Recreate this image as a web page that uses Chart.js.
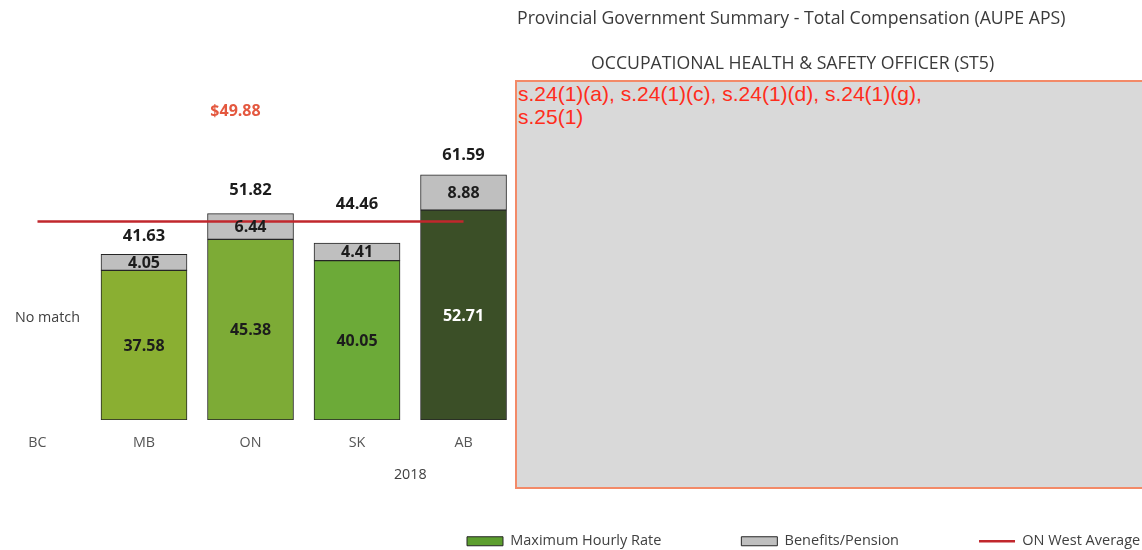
<!DOCTYPE html>
<html>
<head>
<meta charset="utf-8">
<script src="https://cdn.jsdelivr.net/npm/chart.js@4.4.1/dist/chart.umd.min.js"></script>
<style>
    html, body { margin: 0; padding: 0; background: #fff; }
    #wrap { position: relative; width: 1142px; height: 550px; overflow: hidden; }
    #chart { position: absolute; left: 0; top: 0; }
    .title { position: absolute; font-family: "Open Sans", sans-serif; color: #3a3a3a; white-space: nowrap; }
    #t1 { left: 517px; top: 5px; font-size: 17.7px; }
    #t2 { left: 591px; top: 50px; font-size: 17.7px; }
    #redact {
        position: absolute; left: 515px; top: 80px; width: 640px; height: 409px;
        background: #d9d9d9; border: 2px solid #f38a68;
        font-family: "Liberation Sans", Arial, sans-serif; font-size: 21px; line-height: 23px;
        color: #ff2d1c; padding-left: 1px; box-sizing: border-box;
    }
</style>
</head>
<body>
<div id="wrap">
    <canvas id="chart" width="1142" height="550"></canvas>
    <div class="title" id="t1">Provincial Government Summary - Total Compensation (AUPE APS)</div>
    <div class="title" id="t2">OCCUPATIONAL HEALTH &amp; SAFETY OFFICER (ST5)</div>
    <div id="redact">s.24(1)(a), s.24(1)(c), s.24(1)(d), s.24(1)(g),<br>s.25(1)</div>
</div>
<script>
// Datos del gráfico
const provinces = ['BC', 'MB', 'ON', 'SK', 'AB'];
const maxHourlyRate = [null, 37.58, 45.38, 40.05, 52.71];
const benefitsPension = [null, 4.05, 6.44, 4.41, 8.88];
const westAverage = [49.88, 49.88, 49.88, 49.88, 49.88];
const yearLabel = '2018';
const noMatchText = 'No match';

const rateColors = ['#8aaf32', '#8aaf32', '#7dab36', '#6caa38', '#3b4f27'];
const legendGreen = '#5c9e2e';
const grey = '#bfbfbf';
const red = '#c1272d';
const FONT = '"Open Sans", sans-serif';

// etiquetas de valores y textos sueltos
const labelPlugin = {
    id: 'valueLabels',
    afterDatasetsDraw(chart) {
        const ctx = chart.ctx;
        const xs = chart.scales.x, ys = chart.scales.y;
        const lift = [0, 18, 23, 39, 20];
        ctx.save();
        ctx.textAlign = 'center';
        ctx.textBaseline = 'middle';

        [0, 1].forEach(di => {
            const meta = chart.getDatasetMeta(di);
            meta.data.forEach((bar, i) => {
                const v = chart.data.datasets[di].data[i].y;
                if (v == null) return;
                ctx.font = 'bold 16px ' + FONT;
                ctx.fillStyle = (di === 0 && i === 4) ? '#ffffff' : '#1c1c1c';
                ctx.fillText(v.toFixed(2), bar.x, (bar.y + bar.base) / 2 + 1);
            });
        });

        // totales encima de cada barra
        const top = chart.getDatasetMeta(1);
        top.data.forEach((bar, i) => {
            if (maxHourlyRate[i] == null) return;
            const total = maxHourlyRate[i] + benefitsPension[i];
            ctx.font = 'bold 16.5px ' + FONT;
            ctx.fillStyle = '#1c1c1c';
            ctx.fillText(total.toFixed(2), bar.x, bar.y - lift[i]);
        });

        // etiqueta del promedio
        ctx.font = 'bold 16px ' + FONT;
        ctx.fillStyle = '#e4583f';
        ctx.fillText('$' + westAverage[2].toFixed(2), xs.getPixelForValue(2) - 15, ys.getPixelForValue(westAverage[2]) - 110);

        ctx.font = '14.3px ' + FONT;
        ctx.fillStyle = '#404040';
        ctx.fillText(noMatchText, xs.getPixelForValue(0) + 10, ys.getPixelForValue(0) - 102);
        ctx.fillText(yearLabel, xs.getPixelForValue(3.5), chart.chartArea.bottom + 55);
        ctx.restore();
    }
};

// coloca la leyenda abajo a la derecha como en el original
const legendPlacer = {
    id: 'legendPlacer',
    beforeInit(chart) {
        const fit = chart.legend.fit;
        chart.legend.fit = function () {
            fit.call(this);
            this.height = 30;
        };
    },
    afterLayout(chart) {
        const lg = chart.legend;
        const p = lg.options.labels.padding;
        lg.left = 467 - p;
        lg.right = 1600;
        lg.top = 540 - p - 6;
    }
};

const chart = new Chart(document.getElementById('chart').getContext('2d'), {
    type: 'bar',
    data: {
        datasets: [
            {
                label: 'Maximum Hourly Rate',
                data: maxHourlyRate.map((v, i) => ({ x: i, y: v })),
                backgroundColor: rateColors,
                borderColor: '#262626',
                borderWidth: 1,
                borderSkipped: false,
                barThickness: 86,
                stack: 'comp'
            },
            {
                label: 'Benefits/Pension',
                data: benefitsPension.map((v, i) => ({ x: i, y: v })),
                backgroundColor: grey,
                borderColor: '#262626',
                borderWidth: 1,
                borderSkipped: false,
                barThickness: 86,
                stack: 'comp'
            },
            {
                type: 'line',
                label: 'ON West Average',
                data: westAverage.map((v, i) => ({ x: i, y: v })),
                borderColor: red,
                backgroundColor: red,
                borderWidth: 2.5,
                pointRadius: 0,
                stack: 'avg',
                order: -1
            }
        ]
    },
    options: {
        responsive: false,
        animation: false,
        layout: { padding: 0 },
        scales: {
            x: {
                type: 'linear',
                offset: false,
                min: -0.352,
                max: 10.37,
                stacked: true,
                grid: { display: false, drawTicks: false, offset: false },
                border: { display: false },
                ticks: {
                    stepSize: 1,
                    autoSkip: false,
                    includeBounds: false,
                    maxRotation: 0,
                    padding: 14,
                    color: '#555555',
                    font: { family: FONT, size: 14.3 },
                    callback: (v) => provinces[v] ?? ''
                },
                afterFit(scale) {
                    scale.height = 130 - scale.chart.legend.height;
                }
            },
            y: {
                display: false,
                stacked: true,
                min: 0,
                max: 105.5
            }
        },
        plugins: {
            tooltip: { enabled: false },
            legend: {
                position: 'bottom',
                align: 'start',
                labels: {
                    usePointStyle: true,
                    pointStyleWidth: 36,
                    boxHeight: 9,
                    padding: 80,
                    color: '#404040',
                    font: { family: FONT, size: 14.5 },
                    sort: (a, b) => a.datasetIndex - b.datasetIndex,
                    generateLabels(c) {
                        const items = Chart.defaults.plugins.legend.labels.generateLabels(c);
                        items.forEach(it => {
                            if (it.datasetIndex === 2) {
                                it.pointStyle = 'line';
                                it.strokeStyle = red;
                                it.lineWidth = 2.5;
                            } else {
                                it.pointStyle = 'rect';
                                it.fillStyle = it.datasetIndex === 0 ? legendGreen : grey;
                                it.strokeStyle = '#262626';
                                it.lineWidth = 1;
                            }
                        });
                        return items;
                    }
                }
            }
        }
    },
    plugins: [labelPlugin, legendPlacer]
});
</script>
</body>
</html>
